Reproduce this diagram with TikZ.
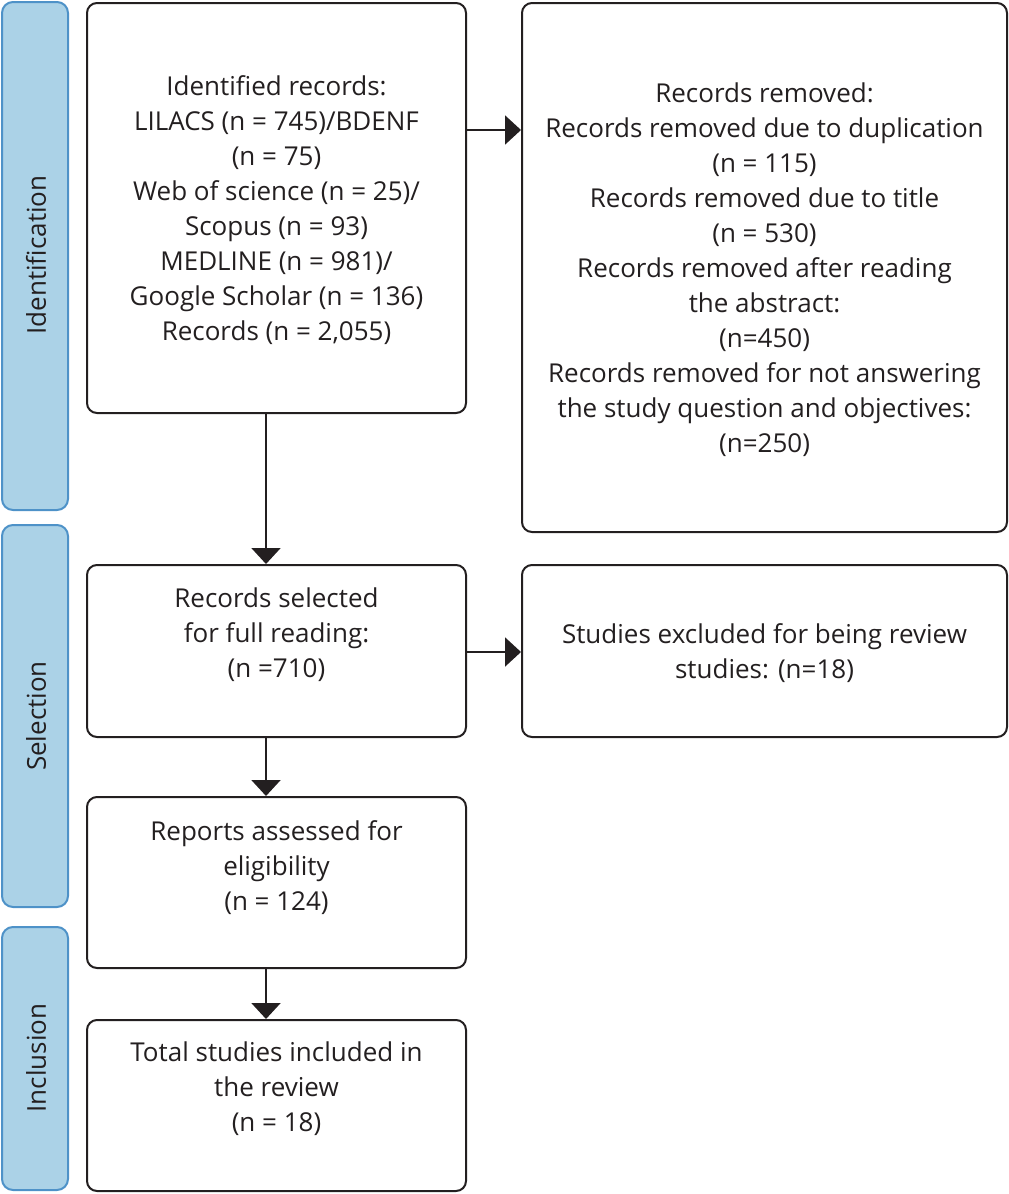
\documentclass[tikz,border=0pt]{standalone}
\usepackage{fontspec}
\setmainfont{Open Sans}
\usetikzlibrary{arrows.meta}
\definecolor{barfill}{RGB}{171,210,231}
\definecolor{bardraw}{RGB}{78,146,200}
\definecolor{ink}{RGB}{35,31,32}
\tikzset{
  sidebar/.style={draw=bardraw, fill=barfill, line width=2pt, rounded corners=11pt},
  flowbox/.style={draw=ink, line width=2pt, rounded corners=10pt},
  boxtext/.style={align=center, text=ink, font=\fontsize{26}{35}\selectfont, inner sep=0pt},
  sidetext/.style={rotate=90, text=ink, font=\fontsize{26}{35}\selectfont, inner sep=0pt},
  flow/.style={draw=ink, line width=2pt, -{Triangle[width=29pt,length=16pt]}}
}
\begin{document}
\begin{tikzpicture}[x=1pt,y=-1pt]
\useasboundingbox (0,0) rectangle (1009,1194);
% side bars
\path[sidebar] (2,2) rectangle (68,510);
\path[sidebar] (2,525) rectangle (68,907);
\path[sidebar] (2,927) rectangle (68,1190);
\node[sidetext] (lid) at (36,255) {Identification};
\node[sidetext] (lsel) at (36,716) {Selection};
\node[sidetext] (linc) at (36,1058) {Inclusion};
% boxes
\node[flowbox, minimum width=379pt, minimum height=410pt] (A) at (276.5,208) {};
\node[flowbox, minimum width=485pt, minimum height=529pt] (B) at (764.5,267.5) {};
\node[flowbox, minimum width=379pt, minimum height=172pt] (C) at (276.5,651) {};
\node[flowbox, minimum width=485pt, minimum height=172pt] (D) at (764.5,651) {};
\node[flowbox, minimum width=379pt, minimum height=171pt] (E) at (276.5,882.5) {};
\node[flowbox, minimum width=379pt, minimum height=171pt] (F) at (276.5,1105.5) {};
% texts
\node[boxtext] (tA) at (276.5,210) {Identified records:\\LILACS (n = 745)/BDENF\\(n = 75)\\Web of science (n = 25)/\\Scopus (n = 93)\\MEDLINE (n = 981)/\\Google Scholar (n = 136)\\Records (n = 2,055)};
\node[boxtext] (tB) at (764.5,270) {Records removed:\\Records removed due to duplication\\(n = 115)\\Records removed due to title\\(n = 530)\\Records removed after reading\\the abstract:\\(n=450)\\Records removed for not answering\\the study question and objectives:\\(n=250)};
\node[boxtext] (tC) at (276.5,635) {Records selected\\for full reading:\\(n =710)};
\node[boxtext] (tD) at (764.5,653) {Studies excluded for being review\\studies: (n=18)};
\node[boxtext] (tE) at (276.5,868) {Reports assessed for\\eligibility\\(n = 124)};
\node[boxtext] (tF) at (276.5,1089) {Total studies included in\\the review\\(n = 18)};
% arrows
\draw[flow] (A.south -| 266,0) -- (C.north -| 266,0);
\draw[flow] (A.east |- 0,130) -- (B.west |- 0,130);
\draw[flow] (C.east |- 0,652) -- (D.west |- 0,652);
\draw[flow] (C.south -| 266,0) -- (E.north -| 266,0);
\draw[flow] (E.south -| 266,0) -- (F.north -| 266,0);
\end{tikzpicture}
\end{document}
